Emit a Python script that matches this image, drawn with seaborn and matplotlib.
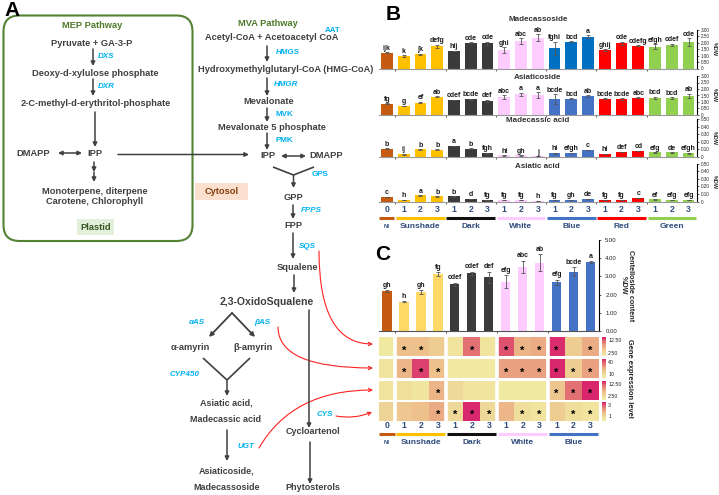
import numpy as np
import pandas as pd
import matplotlib
matplotlib.use("Agg")
import matplotlib.pyplot as plt
import matplotlib.transforms as mtransforms
from matplotlib.patches import FancyBboxPatch, FancyArrowPatch
from matplotlib.colors import LinearSegmentedColormap
import seaborn as sns

# ---------------- data ----------------
b_groups = ["NI", "Sunshade", "Dark", "White", "Blue", "Red", "Green"]
b_sizes = [1, 3, 3, 3, 3, 3, 3]
b_levels = ["0"] + ["1", "2", "3"] * 6

madecassoside = [1.23, 0.97, 1.10, 1.75, 1.36, 2.01, 1.96, 1.44, 2.14, 2.40, 1.57, 2.09, 2.48, 1.44, 1.96, 1.78, 1.70, 1.83, 2.04]
madecassoside_err = [0.03, 0.05, 0.05, 0.12, 0.03, 0.03, 0.12, 0.20, 0.20, 0.25, 0.50, 0.03, 0.10, 0.07, 0.12, 0.03, 0.20, 0.10, 0.30]
madecassoside_let = ["ijk", "k", "jk", "defg", "hij", "cde", "cde", "ghi", "abc", "ab", "fghi", "bcd", "a", "ghij", "cde", "cdefg", "efgh", "cdef", "cde"]

asiaticoside = [0.88, 0.69, 0.95, 1.41, 1.15, 1.20, 1.08, 1.36, 1.59, 1.54, 1.23, 1.26, 1.46, 1.26, 1.23, 1.33, 1.30, 1.30, 1.46]
asiaticoside_err = [0.02, 0.03, 0.05, 0.03, 0.03, 0.03, 0.07, 0.15, 0.10, 0.20, 0.35, 0.03, 0.05, 0.03, 0.06, 0.03, 0.10, 0.05, 0.15]
asiaticoside_let = ["fg", "g", "ef", "ab", "cdef", "bcde", "def", "abc", "a", "a", "bcde", "bcd", "ab", "bcde", "bcde", "abc", "bcd", "bcd", "ab"]

madecassic = [0.110, 0.035, 0.100, 0.097, 0.146, 0.110, 0.049, 0.022, 0.020, 0.010, 0.050, 0.053, 0.090, 0.040, 0.066, 0.080, 0.060, 0.060, 0.050]
madecassic_err = [0.004, 0.004, 0.004, 0.004, 0.004, 0.004, 0.004, 0.003, 0.003, 0.002, 0.004, 0.004, 0.004, 0.003, 0.004, 0.004, 0.004, 0.004, 0.004]
madecassic_let = ["b", "ij", "b", "b", "a", "b", "fgh", "hi", "gh", "j", "hi", "efgh", "c", "hi", "def", "cd", "efg", "de", "efgh"]

asiatic = [0.058, 0.018, 0.080, 0.066, 0.066, 0.035, 0.022, 0.018, 0.018, 0.009, 0.022, 0.022, 0.031, 0.022, 0.022, 0.044, 0.027, 0.022, 0.022]
asiatic_err = [0.003, 0.002, 0.004, 0.004, 0.003, 0.003, 0.002, 0.002, 0.002, 0.002, 0.002, 0.002, 0.003, 0.002, 0.002, 0.003, 0.002, 0.002, 0.002]
asiatic_let = ["c", "h", "a", "b", "b", "d", "fg", "fg", "fg", "h", "fg", "gh", "de", "fg", "fg", "c", "ef", "efg", "efg"]

c_groups = ["NI", "Sunshade", "Dark", "White", "Blue"]
c_sizes = [1, 3, 3, 3, 3]
c_levels = ["0"] + ["1", "2", "3"] * 4
centelloside = [2.18, 1.62, 2.15, 3.13, 2.56, 3.16, 2.95, 2.71, 3.52, 3.76, 2.67, 3.25, 3.80]
centelloside_err = [0.05, 0.03, 0.10, 0.10, 0.10, 0.10, 0.30, 0.35, 0.35, 0.45, 0.15, 0.25, 0.05]
centelloside_let = ["gh", "h", "gh", "fg", "cdef", "cdef", "def", "efg", "abc", "ab", "efg", "bcde", "a"]

genes = ["SQS", "bAS", "UGT", "CYS"]
expr_sqs = [0.8, 6.0, 6.0, 4.5, 1.5, 11.3, 1.5, 12.8, 6.8, 7.5, 14.3, 4.5, 7.5]
expr_bas = [5.0, 22.5, 45.0, 20.0, 2.5, 2.5, 2.5, 27.5, 27.5, 27.5, 48.5, 15.0, 27.5]
expr_ugt = [1.5, 2.3, 1.5, 6.8, 3.0, 1.5, 1.5, 0.8, 0.8, 0.8, 5.3, 11.3, 14.6]
expr_cys = [1.10, 1.42, 1.58, 1.90, 0.94, 3.40, 0.94, 1.74, 0.78, 0.62, 1.26, 0.78, 0.62]
sig_sqs = [0, 1, 1, 0, 0, 1, 0, 1, 1, 1, 1, 0, 1]
sig_bas = [0, 1, 1, 1, 0, 0, 0, 1, 1, 1, 1, 1, 1]
sig_ugt = [0, 0, 0, 1, 0, 0, 0, 0, 0, 0, 1, 1, 1]
sig_cys = [0, 0, 0, 1, 1, 1, 1, 0, 1, 1, 0, 1, 1]
cbar_ticks = [[2.5, 12.5], [10, 40], [2.5, 12.5], [1, 3]]
cbar_labels = [["2.50", "12.50"], ["10", "40"], ["2.50", "12.50"], ["1", "3"]]
cbar_range = [(0, 15), (0, 50), (0, 15), (0.3, 3.5)]

# ---------------- style ----------------
sns.set_theme(style="white")
plt.rcParams['font.family'] = ['Liberation Sans', 'DejaVu Sans']

W, H = 719, 495
fig = plt.figure(figsize=(W / 100, H / 100), dpi=100)


def rect(l, t, r, b):
    return [l / W, 1 - b / H, (r - l) / W, (b - t) / H]


col_ni = "#C55A11"
col_sun = "#FFC000"
col_sun_c = "#FFD966"
col_dark = "#3A3A3A"
col_white = "#FFCCFF"
col_blue1 = "#0070C0"
col_blue = "#4472C4"
col_red = "#FF0000"
col_green = "#92D050"
lab_col = "#2F4B7C"


def expand(cols, sizes):
    out = []
    for c, s in zip(cols, sizes):
        out += [c] * s
    return out


colors_b1 = expand([col_ni, col_sun, col_dark, col_white, col_blue1, col_red, col_green], b_sizes)
colors_b = expand([col_ni, col_sun, col_dark, col_white, col_blue, col_red, col_green], b_sizes)
colors_c = expand([col_ni, col_sun_c, col_dark, col_white, col_blue], c_sizes)
under_b = [col_ni, col_sun, "#111111", col_white, col_blue, col_red, col_green]
under_c = [col_ni, col_sun, "#111111", col_white, col_blue]


def draw_bars(ax, vals, errs, letters, colors, width, ymax, yticks, ylabs, lfs=5):
    n = len(vals)
    names = [f"c{i}" for i in range(n)]
    df = pd.DataFrame({"cond": names, "val": vals})
    sns.barplot(data=df, x="cond", y="val", hue="cond", order=names, hue_order=names,
                palette=colors, width=width, saturation=1, legend=False, errorbar=None,
                linewidth=0, ax=ax)
    ax.errorbar(np.arange(n), vals, yerr=errs, fmt='none', ecolor='#555555',
                elinewidth=0.6, capsize=1.3, capthick=0.6, zorder=3)
    for i, (v, e, l) in enumerate(zip(vals, errs, letters)):
        ax.text(i, v + e + ymax * 0.015, l, ha='center', va='bottom', fontsize=lfs,
                fontweight='bold', color='#1a1a1a')
    ax.set_xlim(-0.5, n - 0.5)
    ax.set_ylim(0, ymax)
    ax.patch.set_alpha(0)
    ax.yaxis.tick_right()
    ax.yaxis.set_label_position("right")
    for s in ['left', 'top']:
        ax.spines[s].set_visible(False)
    ax.spines['right'].set_color('black')
    ax.spines['right'].set_linewidth(0.8)
    ax.spines['bottom'].set_color('#9a9a9a')
    ax.spines['bottom'].set_linewidth(0.8)
    ax.set_yticks(yticks)
    ax.set_yticklabels(ylabs)
    ax.set_xlabel('')
    ax.set_ylabel('')


def boundary_ticks(ax, sizes):
    b = np.cumsum(sizes)[:-1] - 0.5
    ax.set_xticks(b, minor=True)
    ax.tick_params(axis='x', which='minor', length=1.5, width=0.6, color='#444444', bottom=True)


# ---------------- panel B ----------------
b_rows = [
    (madecassoside, madecassoside_err, madecassoside_let, colors_b1, 3.0, "Madecassoside", (30, 68.5), 1.26),
    (asiaticoside, asiaticoside_err, asiaticoside_let, colors_b, 3.0, "Asiaticoside", (76, 115), 0.95),
    (madecassic, madecassic_err, madecassic_let, colors_b, 0.5, "Madecassic acid", (119, 157), 0.95),
    (asiatic, asiatic_err, asiatic_let, colors_b, 0.5, "Asiatic acid", (163.5, 201.5), 0.93),
]
b_axes = []
for vals, errs, lets, cols, ymax, title, (t, b), ty in b_rows:
    ax = fig.add_axes(rect(378.5, t, 697, b))
    if ymax == 3.0:
        yt = [0, 0.5, 1.0, 1.5, 2.0, 2.5, 3.0]
    else:
        yt = [0, 0.1, 0.2, 0.3, 0.4, 0.5]
    yl = ["0"] + [f"{v:.2f}" for v in yt[1:]]
    draw_bars(ax, vals, errs, lets, cols, 0.7, ymax, yt, yl)
    ax.tick_params(axis='y', length=1.5, width=0.5, pad=1.5, labelsize=3.3, colors='#222222', right=True)
    ax.set_ylabel('%DW', rotation=270, fontsize=4, labelpad=5, fontweight='bold')
    ax.text(0.5, ty, title, transform=ax.transAxes, ha='center', va='center', fontsize=5.8,
            fontweight='bold', color='#333333')
    ax.set_xticks([])
    boundary_ticks(ax, b_sizes)
    b_axes.append(ax)

# ---------------- panel C bars ----------------
axc = fig.add_axes(rect(378.5, 240, 599, 331))
draw_bars(axc, centelloside, centelloside_err, centelloside_let, colors_c, 0.55, 5.0,
          [0, 1, 2, 3, 4, 5], [f"{v:.2f}" for v in [0, 1, 2, 3, 4, 5]], lfs=5)
axc.spines['bottom'].set_color('#555555')
axc.tick_params(axis='y', length=1.5, width=0.5, pad=3, labelsize=4.3, colors='#222222', right=True)
axc.set_ylabel('Centelloside content\n%DW', rotation=270, fontsize=5.2, labelpad=12,
               fontweight='bold', linespacing=1.0)
axc.set_xticks([])
boundary_ticks(axc, c_sizes)

# ---------------- panel C heatmaps ----------------
cmap = LinearSegmentedColormap.from_list(
    "ylpk", ["#F1EEA4", "#EFD99A", "#EDC08C", "#E9977E", "#E06570", "#D81D6C"])
expr_rows = [expr_sqs, expr_bas, expr_ugt, expr_cys]
sig_rows = [sig_sqs, sig_bas, sig_ugt, sig_cys]
row_px = [(337, 356), (358.5, 378), (381, 399.5), (402, 420.5)]
h_axes = []
for k in range(4):
    t, b = row_px[k]
    hax = fig.add_axes(rect(378.5, t, 599, b))
    cax = fig.add_axes(rect(602, t, 606, b))
    data = np.array([expr_rows[k]])
    ann = np.array([["*" if s else "" for s in sig_rows[k]]])
    vmin, vmax = cbar_range[k]
    sns.heatmap(data, ax=hax, cmap=cmap, vmin=vmin, vmax=vmax, cbar_ax=cax,
                cbar_kws={'ticks': cbar_ticks[k]}, annot=ann, fmt='',
                annot_kws={'fontsize': 8, 'color': 'black', 'fontweight': 'bold'},
                xticklabels=False, yticklabels=False, linewidths=0)
    for txt in hax.texts:
        x0, y0 = txt.get_position()
        txt.set_position((x0, y0 + 0.22))
    for xb in np.cumsum(c_sizes)[:-1]:
        hax.axvline(xb, color='white', lw=2.6)
    cax.set_yticklabels(cbar_labels[k])
    cax.tick_params(length=0, pad=1.5, labelsize=3.8, colors='#222222')
    cb = hax.collections[0].colorbar
    cb.outline.set_visible(False)
    h_axes.append(hax)

# ---------------- overlay (panel A, labels, arrows) ----------------
ov = fig.add_axes([0, 0, 1, 1])
ov.set_xlim(0, W)
ov.set_ylim(H, 0)
ov.axis('off')
ov.patch.set_alpha(0)

# group labels under B
trb = mtransforms.blended_transform_factory(b_axes[-1].transData, ov.transData)
for i, l in enumerate(b_levels):
    ov.text(i, 210, l, transform=trb, ha='center', va='center', fontsize=6.2,
            fontweight='bold', color=lab_col)
starts = np.concatenate([[0], np.cumsum(b_sizes)[:-1]])
for g, s, n, c in zip(b_groups, starts, b_sizes, under_b):
    ov.plot([s - 0.45, s + n - 0.55], [218, 218], transform=trb, color=c, lw=2.2,
            solid_capstyle='butt')
    ov.text(s + (n - 1) / 2, 226.5, g, transform=trb, ha='center', va='center',
            fontsize=4.5 if g == "NI" else 6.0, fontweight='bold', color=lab_col)

# group labels under C (heatmap data coords: cell i centered at i+0.5)
trc = mtransforms.blended_transform_factory(h_axes[-1].transData, ov.transData)
for i, l in enumerate(c_levels):
    ov.text(i + 0.5, 425.5, l, transform=trc, ha='center', va='center', fontsize=6.2,
            fontweight='bold', color=lab_col)
starts = np.concatenate([[0], np.cumsum(c_sizes)[:-1]])
for g, s, n, c in zip(c_groups, starts, c_sizes, under_c):
    ov.plot([s + 0.05, s + n - 0.05], [433.5, 433.5], transform=trc, color=c, lw=2.2,
            solid_capstyle='butt')
    ov.text(s + n / 2, 442.5, g, transform=trc, ha='center', va='center',
            fontsize=4.5 if g == "NI" else 6.0, fontweight='bold', color=lab_col)

ov.text(629, 378, "Gene expression level", rotation=270, ha='center', va='center',
        fontsize=5.4, fontweight='bold', color='#222222')

# panel letters
ov.text(12, 11, "A", fontsize=15, fontweight='bold', ha='center', va='center', color='black')
ov.text(393, 15, "B", fontsize=15, fontweight='bold', ha='center', va='center', color='black')
ov.text(383, 254, "C", fontsize=15, fontweight='bold', ha='center', va='center', color='black')

DARK = "#404040"
ENZ = "#00B0F0"


def T(x, y, s, size=6.7, color=DARK, ha='center', **kw):
    ov.text(x, y, s, ha=ha, va='center', fontsize=size, fontweight='bold', color=color, **kw)


def E(x, y, s, italic=True, ha='left'):
    ov.text(x, y, s, ha=ha, va='center', fontsize=5.8, fontweight='bold', color=ENZ,
            style='italic' if italic else 'normal')


def arr(x1, y1, x2, y2, both=False, lw=1.1):
    ov.annotate('', xy=(x2, y2), xytext=(x1, y1),
                arrowprops=dict(arrowstyle='<|-|>' if both else '-|>', color=DARK, lw=lw,
                                mutation_scale=6, shrinkA=0, shrinkB=0))


def line(x1, y1, x2, y2, lw=1.2):
    ov.plot([x1, x2], [y1, y2], color=DARK, lw=lw, solid_capstyle='butt')


# MEP box
ov.add_patch(FancyBboxPatch((3.5, 15.5), 189, 225.5, boxstyle="round,pad=0,rounding_size=16",
                            ec="#548235", fc='none', lw=1.5))
T(92, 25, "MEP Pathway", color="#4E7A2A")
T(92, 43, "Pyruvate + GA-3-P")
arr(93, 49, 93, 66)
E(98, 57, "DXS")
T(95, 73, "Deoxy-d-xylulose phosphate")
arr(93, 79, 93, 96)
E(98, 86, "DXR")
T(96, 103, "2-C-methyl-d-erythritol-phosphate")
arr(95, 112, 95, 147)
T(33, 153, "DMAPP")
arr(58, 153, 82, 153, both=True)
T(95, 153, "IPP")
arr(118, 154.5, 249, 154.5)
arr(94, 162, 94, 172)
arr(94, 172, 94, 182)
T(95, 192, "Monoterpene, diterpene")
T(95, 202, "Carotene, Chlorophyll")
ov.add_patch(FancyBboxPatch((77, 219), 37, 16, boxstyle="square,pad=0", fc="#E2EFDA", ec='none'))
T(95.5, 227, "Plastid", color="#375623")
ov.add_patch(FancyBboxPatch((195, 183), 53, 17, boxstyle="square,pad=0", fc="#FBE0D0", ec='none'))
T(221.5, 191.5, "Cytosol", color="#843C0C")

# MVA pathway
T(268, 24, "MVA Pathway", color="#4E7A2A")
E(325, 30, "AAT", italic=False)
T(272, 38, "Acetyl-CoA + Acetoacetyl CoA")
arr(267, 46, 267, 62)
E(276, 52, "HMGS")
T(286, 69, "Hydroxymethylglutaryl-CoA (HMG-CoA)")
arr(267, 78, 267, 96)
E(274, 85, "HMGR")
T(269, 102, "Mevalonate")
arr(267, 108, 267, 122)
E(276, 114, "MVK", italic=False)
T(272, 127, "Mevalonate 5 phosphate")
arr(267, 133, 267, 150)
E(276, 140, "PMK", italic=False)
T(268, 156, "IPP")
arr(281, 156, 306, 156, both=True)
T(326, 156, "DMAPP")
line(273, 167, 293.5, 175)
line(314, 167, 293.5, 175)
arr(293.5, 175, 293.5, 188)
E(312, 175, "GPS", italic=False)
T(293, 198, "GPP")
arr(293, 205, 293, 219)
E(301, 210, "FPPS")
T(293, 226, "FPP")
arr(293, 233, 293, 259)
E(299, 246, "SQS")
T(297, 268, "Squalene")
arr(294, 275, 294, 293)
T(267, 302, "2,3-OxidoSqualene", size=7.6)
arr(232, 313, 209, 337, lw=1.3)
arr(232, 313, 255, 337, lw=1.3)
E(197, 323, "\u03b1AS", ha='center')
E(262, 323, "\u03b2AS", ha='center')
T(190, 347, "\u03b1-amyrin")
T(253, 347, "\u03b2-amyrin")
line(203, 358, 227, 380)
line(250, 358, 227, 380)
arr(227, 380, 227, 396)
E(185, 374, "CYP450", ha='center')
T(226, 403, "Asiatic acid,", size=6.5)
T(226, 419, "Madecassic acid", size=6.5)
arr(227, 430, 227, 461)
E(246, 446, "UGT", ha='center')
T(227, 471, "Asiaticoside,", size=6.5)
T(227, 487, "Madecassoside", size=6.5)
arr(309, 310, 309, 428)
T(313, 432, "Cycloartenol", size=6.5)
E(325, 415, "CYS", ha='center')
arr(310, 442, 310, 484)
T(313, 488, "Phytosterols", size=6.5)

# red connectors
RED = "#FF2020"


def red(p1, p2, cs):
    ov.add_patch(FancyArrowPatch(p1, p2, connectionstyle=cs, arrowstyle='->', color=RED,
                                 lw=0.8, mutation_scale=6, shrinkA=0, shrinkB=0))


red((319, 251), (373, 344), "angle3,angleA=90,angleB=0")
red((278, 327), (373, 368), "angle3,angleA=90,angleB=0")
red((259, 448), (373, 390), "angle3,angleA=60,angleB=0")
red((336, 416), (372, 412), "arc3,rad=0.15")

fig.savefig("out.png", dpi=100)
